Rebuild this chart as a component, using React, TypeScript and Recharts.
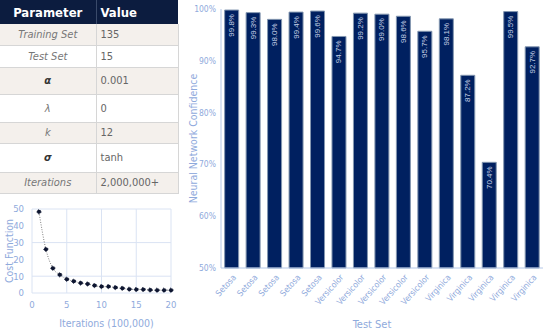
import React from "react";
import {
  BarChart,
  Bar,
  LineChart,
  Line,
  XAxis,
  YAxis,
  CartesianGrid,
  LabelList,
} from "recharts";

// parameter table
const paramNames = ["Training Set", "Test Set", "α", "λ", "k", "σ", "Iterations"];
const paramValues = ["135", "15", "0.001", "0", "12", "tanh", "2,000,000+"];

// cost function over iterations (x 100,000)
const iterations = [1, 2, 3, 4, 5, 6, 7, 8, 9, 10, 11, 12, 13, 14, 15, 16, 17, 18, 19, 20];
const costValues = [48.3, 26, 14.8, 10.8, 8.2, 7, 5.9, 5.4, 4.4, 3.8, 3.8, 3.2, 2.8, 2.3, 2.1, 2.1, 1.8, 1.7, 1.7, 1.7];

// network confidence per test sample
const testClasses = [
  "Setosa", "Setosa", "Setosa", "Setosa", "Setosa",
  "Versicolor", "Versicolor", "Versicolor", "Versicolor", "Versicolor",
  "Virginica", "Virginica", "Virginica", "Virginica", "Virginica",
];
const confidence = [99.8, 99.3, 98.0, 99.4, 99.6, 94.7, 99.2, 99.0, 98.6, 95.7, 98.1, 87.2, 70.4, 99.5, 92.7];

const costTicksX = [0, 5, 10, 15, 20];
const costTicksY = [0, 10, 20, 30, 40, 50];
const confTicks = [50, 60, 70, 80, 90, 100];

const NAVY = "#002060";
const LIGHT = "#8faadc";
const NARROW = "'Liberation Sans Narrow', 'DejaVu Sans Condensed', 'Liberation Sans', sans-serif";

const rowHeights = [21, 22, 27, 28, 21, 29, 21];

const costData = iterations.map((it, i) => ({ it, cost: costValues[i] }));
const confData = testClasses.map((c, i) => ({ id: i, name: c, value: confidence[i] }));

const ParamTable = () => (
  <table
    style={{
      position: "absolute",
      left: 0,
      top: 0,
      width: 178,
      borderCollapse: "collapse",
      tableLayout: "fixed",
      fontFamily: NARROW,
      fontSize: 11,
      color: "#666",
    }}
  >
    <colgroup>
      <col style={{ width: 96 }} />
      <col style={{ width: 82 }} />
    </colgroup>
    <thead>
      <tr style={{ height: 24, background: "#0c1c3f", color: "#fff", fontSize: 13, fontWeight: "bold" }}>
        <th style={{ textAlign: "center", padding: 0, borderRight: "1px solid #3a4a6a" }}>Parameter</th>
        <th style={{ textAlign: "left", padding: "0 0 0 4px" }}>Value</th>
      </tr>
    </thead>
    <tbody>
      {paramNames.map((p, i) => {
        const greek = p === "α" || p === "σ";
        return (
          <tr
            key={p}
            style={{
              height: rowHeights[i],
              background: i % 2 === 0 ? "#f4f0ec" : "#fff",
              borderBottom: "1px solid #d6d6d6",
            }}
          >
            <td
              style={{
                textAlign: "center",
                fontStyle: "italic",
                fontWeight: greek ? "bold" : "normal",
                color: greek ? "#333" : "#777",
                padding: 0,
                borderRight: "1px solid #d6d6d6",
              }}
            >
              {p}
            </td>
            <td style={{ padding: "0 0 0 4px", borderRight: "1px solid #d6d6d6" }}>{paramValues[i]}</td>
          </tr>
        );
      })}
    </tbody>
  </table>
);

const CategoryTick = (props: any) => {
  const { x, y, payload } = props;
  return (
    <g transform={`translate(${x + 3},${y})`}>
      <text
        x={0}
        y={0}
        dy="0.3em"
        textAnchor="end"
        transform="rotate(-48)"
        fill={LIGHT}
        fontSize={8.5}
        fontFamily={NARROW}
      >
        {payload.value}
      </text>
    </g>
  );
};

const renderBarLabel = (props: any) => {
  const { x, y, width, value } = props;
  const cx = x + width / 2;
  const ty = y + 4;
  return (
    <text
      x={cx}
      y={ty}
      transform={`rotate(-90, ${cx}, ${ty})`}
      textAnchor="end"
      dominantBaseline="central"
      fill="#c5d0e6"
      fontSize={8}
      fontFamily="'Liberation Sans', sans-serif"
    >
      {`${Number(value).toFixed(1)}%`}
    </text>
  );
};

export default function App() {
  return (
    <div style={{ position: "absolute", left: 0, top: 0, width: 550, height: 330, background: "#fff" }}>
      <ParamTable />

      <div style={{ position: "absolute", left: 0, top: 200 }}>
        <LineChart width={180} height={130} data={costData} margin={{ top: 9, right: 9, left: 0, bottom: 0 }}>
          <CartesianGrid stroke="#dae3f3" />
          <XAxis
            dataKey="it"
            type="number"
            domain={[0, 20]}
            ticks={costTicksX}
            axisLine={false}
            tickLine={false}
            height={37}
            tick={{ fill: LIGHT, fontSize: 9.5, fontFamily: NARROW }}
            label={{
              value: "Iterations (100,000)",
              position: "insideBottom",
              offset: 3,
              dx: 5,
              fill: LIGHT,
              fontSize: 10.5,
              fontFamily: NARROW,
            }}
          />
          <YAxis
            type="number"
            domain={[0, 50]}
            ticks={costTicksY}
            axisLine={false}
            tickLine={false}
            width={32}
            tick={{ fill: LIGHT, fontSize: 9.5, fontFamily: NARROW }}
            label={{
              value: "Cost Function",
              angle: -90,
              position: "insideLeft",
              offset: 9,
              fill: LIGHT,
              fontSize: 10.5,
              fontFamily: NARROW,
              style: { textAnchor: "middle" },
            }}
          />
          <Line
            type="monotone"
            dataKey="cost"
            stroke="#7f7f7f"
            strokeWidth={1}
            strokeDasharray="1 1.5"
            dot={{ r: 2, fill: "#0d1530", stroke: "#0d1530" }}
            isAnimationActive={false}
          />
        </LineChart>
      </div>

      <div style={{ position: "absolute", left: 185, top: 0 }}>
        <BarChart
          width={365}
          height={330}
          data={confData}
          margin={{ top: 9, right: 7, left: 0, bottom: 0 }}
          barCategoryGap="17%"
        >
          <XAxis
            dataKey="id"
            interval={0}
            height={62}
            axisLine={{ stroke: "#b4c7e7" }}
            tickLine={false}
            tick={(p: any) => <CategoryTick {...p} payload={{ value: testClasses[p.payload.value] }} />}
            label={{
              value: "Test Set",
              position: "insideBottom",
              offset: 2,
              dx: -10,
              fill: LIGHT,
              fontSize: 11,
              fontFamily: NARROW,
            }}
          />
          <YAxis
            type="number"
            domain={[50, 100]}
            ticks={confTicks}
            width={36}
            axisLine={{ stroke: "#b4c7e7" }}
            tickLine={false}
            tickSize={0}
            tickMargin={5}
            tickFormatter={(v: number) => `${v}%`}
            tick={{ fill: LIGHT, fontSize: 8.5, fontFamily: NARROW }}
            label={{
              value: "Neural Network Confidence",
              angle: -90,
              position: "insideLeft",
              offset: 8,
              fill: LIGHT,
              fontSize: 10.5,
              fontFamily: NARROW,
              style: { textAnchor: "middle" },
            }}
          />
          <Bar dataKey="value" fill={NAVY} stroke="#8497b0" strokeWidth={1} isAnimationActive={false}>
            <LabelList dataKey="value" content={renderBarLabel} />
          </Bar>
        </BarChart>
      </div>
    </div>
  );
}
